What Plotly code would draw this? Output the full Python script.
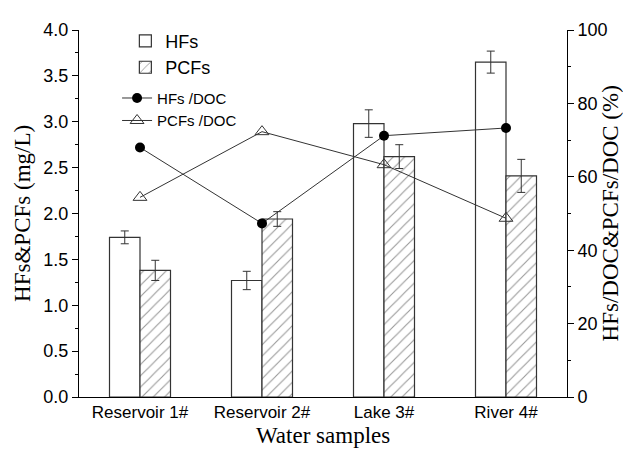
import plotly.graph_objects as go

categories = ["Reservoir 1#", "Reservoir 2#", "Lake 3#", "River 4#"]
hfs = [1.74, 1.27, 2.98, 3.65]
hfs_err = [0.07, 0.10, 0.15, 0.12]
pcfs = [1.38, 1.94, 2.62, 2.41]
pcfs_err = [0.11, 0.08, 0.13, 0.18]
hfs_doc = [68.0, 47.3, 71.2, 73.3]
pcfs_doc = [54.4, 72.3, 63.3, 48.7]

LINE = "#333333"
SANS = "Liberation Sans, Arial, sans-serif"
SERIF = "Liberation Serif, Times New Roman, serif"

fig = go.Figure()
fig.add_trace(go.Bar(
    x=categories, y=hfs, name="HFs", legend="legend",
    marker=dict(color="white", line=dict(color=LINE, width=1.2)),
    error_y=dict(type="data", array=hfs_err, color=LINE, thickness=1, width=4),
))
fig.add_trace(go.Bar(
    x=categories, y=pcfs, name="PCFs", legend="legend",
    marker=dict(color="white", line=dict(color=LINE, width=1.2),
                pattern=dict(shape="/", fgcolor="#333333", bgcolor="white",
                             size=8, solidity=0.14)),
    error_y=dict(type="data", array=pcfs_err, color=LINE, thickness=1, width=4),
))
fig.add_trace(go.Scatter(
    x=categories, y=hfs_doc, name="HFs /DOC", yaxis="y2", legend="legend2",
    mode="lines+markers",
    line=dict(color=LINE, width=1),
    marker=dict(symbol="circle", size=10, color="black"),
))
fig.add_trace(go.Scatter(
    x=categories, y=pcfs_doc, name="PCFs /DOC", yaxis="y2", legend="legend2",
    mode="lines+markers",
    line=dict(color=LINE, width=1),
    marker=dict(symbol="triangle-up-open", size=12, color=LINE, line=dict(width=1)),
))

fig.update_layout(
    width=623, height=444,
    margin=dict(l=71, r=64, t=12, b=55),
    plot_bgcolor="white", paper_bgcolor="white",
    barmode="group", bargap=0.5, bargroupgap=0,
    font=dict(family=SANS, color="black"),
    xaxis=dict(
        range=[-0.5, 3.5], showline=True, linecolor="black", linewidth=1,
        ticks="", showgrid=False, tickfont=dict(family=SANS, size=17),
    ),
    yaxis=dict(
        range=[0, 4], dtick=0.5, tickformat=".1f", showgrid=False, zeroline=False,
        showline=True, linecolor="black", linewidth=1,
        ticks="outside", ticklen=6, tickcolor="black",
        minor=dict(dtick=0.25, ticks="outside", ticklen=3, tickcolor="black"),
        tickfont=dict(family=SANS, size=18),
    ),
    yaxis2=dict(
        range=[0, 100], dtick=20, overlaying="y", side="right", showgrid=False,
        zeroline=False, showline=True, linecolor="black", linewidth=1,
        ticks="outside", ticklen=6, tickcolor="black",
        minor=dict(dtick=10, ticks="outside", ticklen=3, tickcolor="black"),
        tickfont=dict(family=SANS, size=18),
    ),
    legend=dict(x=0.095, y=1.02, xanchor="left", yanchor="top",
                bgcolor="rgba(0,0,0,0)", font=dict(family=SANS, size=18),
                tracegroupgap=2, itemwidth=30),
    legend2=dict(x=0.078, y=0.859, xanchor="left", yanchor="top",
                 bgcolor="rgba(0,0,0,0)", font=dict(family=SANS, size=15),
                 tracegroupgap=0, itemwidth=30),
    annotations=[
        dict(text="HFs&PCFs (mg/L)", xref="paper", yref="paper", x=-0.116, y=0.5,
             textangle=-90, showarrow=False, xanchor="center", yanchor="middle",
             font=dict(family=SERIF, size=23)),
        dict(text="HFs/DOC&PCFs/DOC (%)", xref="paper", yref="paper", x=1.09, y=0.5,
             textangle=-90, showarrow=False, xanchor="center", yanchor="middle",
             font=dict(family=SERIF, size=23)),
        dict(text="Water samples", xref="paper", yref="paper", x=0.5, y=-0.106,
             showarrow=False, xanchor="center", yanchor="middle",
             font=dict(family=SERIF, size=23)),
    ],
)

fig.write_html("out.html")
